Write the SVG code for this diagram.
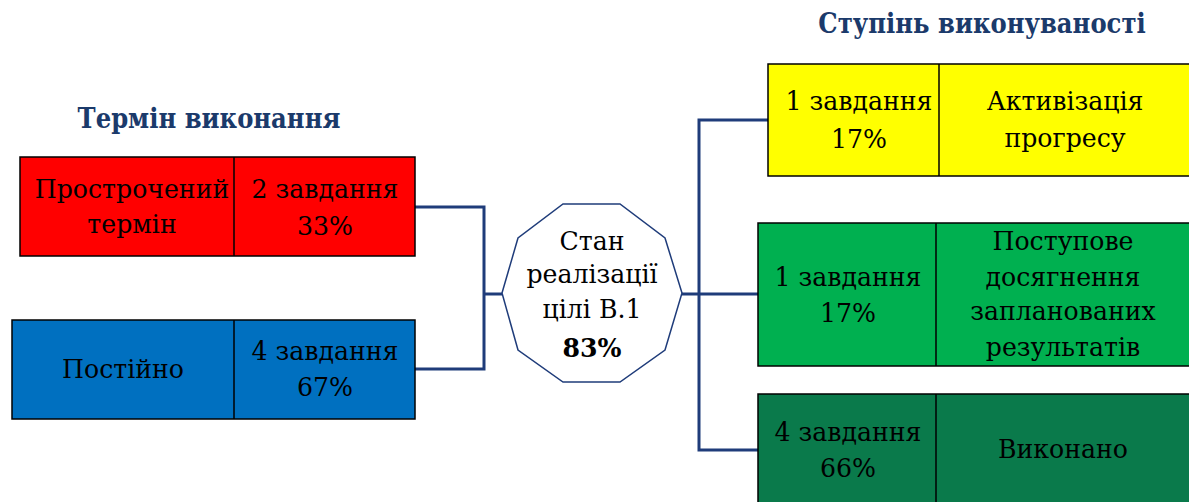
<svg xmlns="http://www.w3.org/2000/svg" width="1189" height="502" viewBox="0 0 1189 502">
<style>
.t{font-family:"DejaVu Serif",serif;font-size:25.2px;fill:#000;text-anchor:middle}
.h{font-family:"DejaVu Serif Condensed","DejaVu Serif",serif;font-stretch:condensed;font-size:27px;font-weight:bold;fill:#1B3A6B;text-anchor:middle}
.box{stroke:#000;stroke-width:1.5}
.conn{fill:none;stroke:#1F3C7A;stroke-width:3}
</style>
<rect width="1189" height="502" fill="#fff"/>
<text class="h" x="209" y="128">Термін виконання</text>
<text class="h" x="982" y="33">Ступінь виконуваності</text>
<g id="connectors">
<polyline class="conn" points="415,207 484,207 484,369 415,369"/>
<line class="conn" x1="484" y1="294" x2="502" y2="294"/>
<line class="conn" x1="682" y1="294" x2="758" y2="294"/>
<polyline class="conn" points="770,120 699,120 699,450 758,450"/>
</g>
<g id="overdue">
<rect class="box" x="20" y="157" width="395" height="99" fill="#FF0000"/>
<line class="box" x1="234" y1="157" x2="234" y2="256"/>
<text class="t" x="132" y="198">Прострочений</text>
<text class="t" x="132" y="233">термін</text>
<text class="t" x="325" y="198">2 завдання</text>
<text class="t" x="325" y="235">33%</text>
</g>
<g id="constant">
<rect class="box" x="12" y="320" width="403" height="99" fill="#0070C0"/>
<line class="box" x1="234" y1="320" x2="234" y2="419"/>
<text class="t" x="123" y="378">Постійно</text>
<text class="t" x="325" y="360">4 завдання</text>
<text class="t" x="325" y="396">67%</text>
</g>
<g id="center">
<polygon points="563,204 620,204 665,238 682,293 665,350 620,382 563,382 518,350 502,293 518,238" fill="#fff" stroke="#1F3C7A" stroke-width="1.5"/>
<text class="t" x="592" y="250">Стан</text>
<text class="t" x="592" y="283">реалізації</text>
<text class="t" x="592" y="318">цілі В.1</text>
<text class="t" x="592" y="357" font-weight="bold">83%</text>
</g>
<g id="activation">
<rect class="box" x="768" y="64" width="430" height="112" fill="#FFFF00"/>
<line class="box" x1="939" y1="64" x2="939" y2="176"/>
<text class="t" x="859" y="110">1 завдання</text>
<text class="t" x="859" y="148">17%</text>
<text class="t" x="1065" y="110">Активізація</text>
<text class="t" x="1065" y="147">прогресу</text>
</g>
<g id="gradual">
<rect class="box" x="758" y="223" width="440" height="143" fill="#00B050"/>
<line class="box" x1="936" y1="223" x2="936" y2="366"/>
<text class="t" x="848" y="286">1 завдання</text>
<text class="t" x="848" y="322">17%</text>
<text class="t" x="1063" y="250">Поступове</text>
<text class="t" x="1063" y="286">досягнення</text>
<text class="t" x="1063" y="320">запланованих</text>
<text class="t" x="1063" y="356">результатів</text>
</g>
<g id="done">
<rect class="box" x="758" y="394" width="440" height="120" fill="#0A7A4B"/>
<line class="box" x1="936" y1="394" x2="936" y2="510"/>
<text class="t" x="848" y="441">4 завдання</text>
<text class="t" x="848" y="477">66%</text>
<text class="t" x="1063" y="458">Виконано</text>
</g>
</svg>
